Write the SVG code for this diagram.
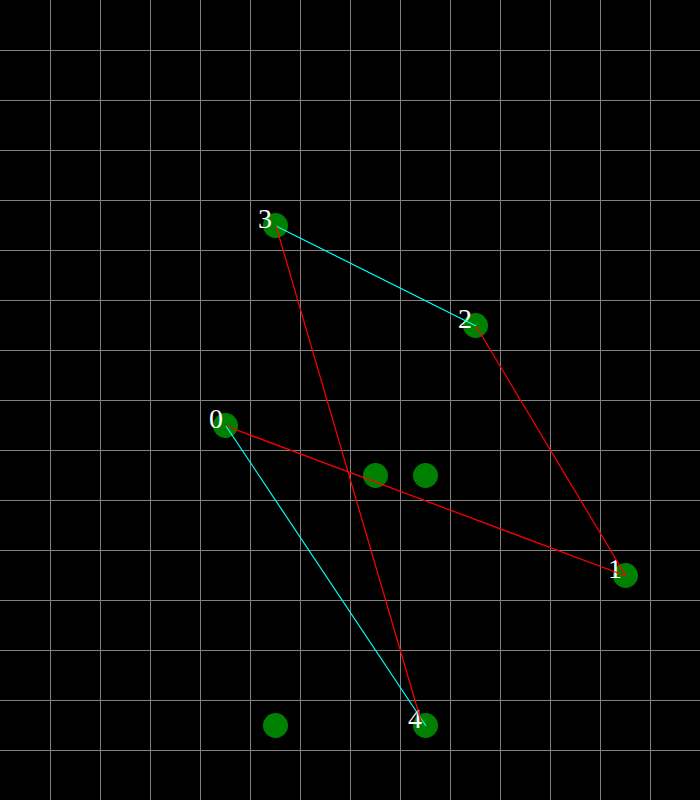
<svg xmlns="http://www.w3.org/2000/svg" width="700" height="800" viewBox="0 0 700 800">
<style>
.grid line{stroke:#808080;stroke-width:1}
.dot{fill:#008000}
.lbl{fill:#ffffff;font-family:"Liberation Serif",serif;font-size:28px}
.cy{stroke:#00ffff;stroke-width:1.2}
.rd{stroke:#ff0000;stroke-width:1.2}
</style>
<rect width="700" height="800" fill="#000000"/>
<g class="grid">
<line x1="50.5" y1="0" x2="50.5" y2="800"/><line x1="100.5" y1="0" x2="100.5" y2="800"/><line x1="150.5" y1="0" x2="150.5" y2="800"/><line x1="200.5" y1="0" x2="200.5" y2="800"/><line x1="250.5" y1="0" x2="250.5" y2="800"/><line x1="300.5" y1="0" x2="300.5" y2="800"/><line x1="350.5" y1="0" x2="350.5" y2="800"/><line x1="400.5" y1="0" x2="400.5" y2="800"/><line x1="450.5" y1="0" x2="450.5" y2="800"/><line x1="500.5" y1="0" x2="500.5" y2="800"/><line x1="550.5" y1="0" x2="550.5" y2="800"/><line x1="600.5" y1="0" x2="600.5" y2="800"/><line x1="650.5" y1="0" x2="650.5" y2="800"/>
<line x1="0" y1="50.5" x2="700" y2="50.5"/><line x1="0" y1="100.5" x2="700" y2="100.5"/><line x1="0" y1="150.5" x2="700" y2="150.5"/><line x1="0" y1="200.5" x2="700" y2="200.5"/><line x1="0" y1="250.5" x2="700" y2="250.5"/><line x1="0" y1="300.5" x2="700" y2="300.5"/><line x1="0" y1="350.5" x2="700" y2="350.5"/><line x1="0" y1="400.5" x2="700" y2="400.5"/><line x1="0" y1="450.5" x2="700" y2="450.5"/><line x1="0" y1="500.5" x2="700" y2="500.5"/><line x1="0" y1="550.5" x2="700" y2="550.5"/><line x1="0" y1="600.5" x2="700" y2="600.5"/><line x1="0" y1="650.5" x2="700" y2="650.5"/><line x1="0" y1="700.5" x2="700" y2="700.5"/><line x1="0" y1="750.5" x2="700" y2="750.5"/>
</g>
<g id="extra-dots">
<circle class="dot" cx="375.5" cy="475.5" r="12.5"/>
<circle class="dot" cx="425.5" cy="475.5" r="12.5"/>
<circle class="dot" cx="275.5" cy="725.5" r="12.5"/>
</g>
<g id="node0"><circle class="dot" cx="225.5" cy="425.5" r="12.5"/><text class="lbl" x="209" y="428">0</text></g>
<g id="node1"><circle class="dot" cx="625.5" cy="575.5" r="12.5"/><text class="lbl" x="608" y="578">1</text></g>
<g id="node2"><circle class="dot" cx="475.5" cy="325.5" r="12.5"/><text class="lbl" x="458" y="328">2</text></g>
<g id="node3"><circle class="dot" cx="275.5" cy="225.5" r="12.5"/><text class="lbl" x="258" y="228">3</text></g>
<g id="node4"><circle class="dot" cx="425.5" cy="725.5" r="12.5"/><text class="lbl" x="408" y="728">4</text></g>
<g id="connectors">
<line class="cy" x1="276" y1="226" x2="476" y2="326"/>
<line class="rd" x1="476" y1="326" x2="626" y2="576"/>
<line class="rd" x1="626" y1="576" x2="226" y2="426"/>
<line class="cy" x1="226" y1="426" x2="426" y2="726"/>
<line class="rd" x1="421" y1="721" x2="276" y2="226"/>
</g>
</svg>
